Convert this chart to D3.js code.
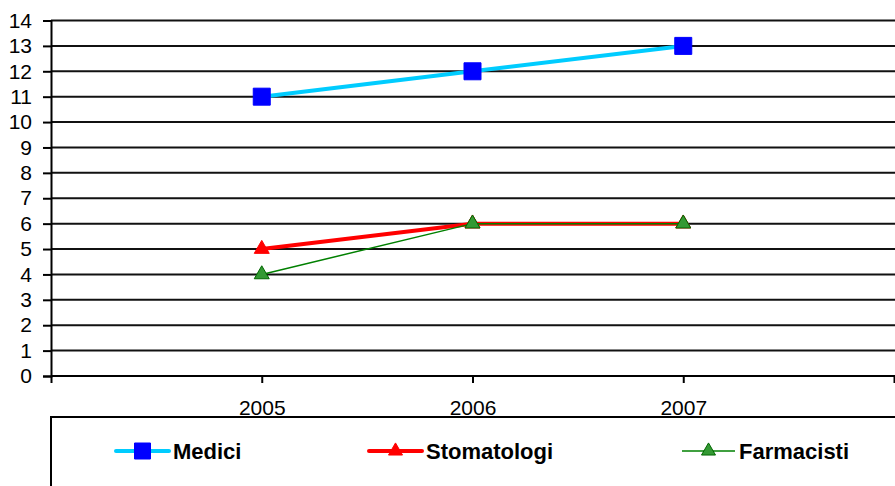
<!DOCTYPE html>
<html>
<head>
<meta charset="utf-8">
<script src="https://cdn.jsdelivr.net/npm/d3@7/dist/d3.min.js"></script>
<style>
  html, body { margin: 0; padding: 0; background: #fff; }
  svg { display: block; font-family: "Liberation Sans", Arial, sans-serif; }
</style>
</head>
<body>
<svg id="chart" width="895" height="486"></svg>
<script>
// Categories and series
const years = [2005, 2006, 2007];
const medici = [11, 12, 13];
const stomatologi = [5, 6, 6];
const farmacisti = [4, 6, 6];
const yTicks = [0, 1, 2, 3, 4, 5, 6, 7, 8, 9, 10, 11, 12, 13, 14];

const series = [
  { name: "Medici", values: medici, line: "#00CCFF", width: 4, marker: "square", fill: "#0000FF", stroke: "#0000FF", size: 17 },
  { name: "Stomatologi", values: stomatologi, line: "#FF0000", width: 4, marker: "triangle", fill: "#FF0000", stroke: "#FF0000", size: 15 },
  { name: "Farmacisti", values: farmacisti, line: "#008000", width: 1.5, marker: "triangle", fill: "#339933", stroke: "#006600", size: 15 }
];

const svg = d3.select("#chart");
const plotLeft = 51, plotRight = 894, plotTop = 20.5, plotBottom = 376;

// Years sit on category boundaries; one empty slot on each side
const x = d3.scaleLinear().domain([years[0] - 1, years[years.length - 1] + 1]).range([plotLeft, plotRight]);
const y = d3.scaleLinear().domain([0, 14]).range([plotBottom, plotTop]);

// Horizontal gridlines
svg.append("g")
  .selectAll("line")
  .data(yTicks.filter(d => d > 0))
  .join("line")
  .attr("x1", plotLeft).attr("x2", 895)
  .attr("y1", d => y(d)).attr("y2", d => y(d))
  .attr("stroke", "#111").attr("stroke-width", 2);

// Y axis
const yAxis = svg.append("g")
  .attr("transform", `translate(${plotLeft},0)`)
  .call(d3.axisLeft(y).tickValues(yTicks).tickSize(8).tickPadding(11).tickFormat(d3.format("d")));
yAxis.select(".domain").attr("stroke", "#000").attr("stroke-width", 2);
yAxis.selectAll(".tick line").attr("stroke", "#000").attr("stroke-width", 2);
yAxis.selectAll("text").attr("font-size", 21).attr("fill", "#000")
  .attr("font-family", "'Liberation Sans', Arial, sans-serif");

// X axis
const xTickVals = d3.range(years[0] - 1, years[years.length - 1] + 2);
const xAxis = svg.append("g")
  .attr("transform", `translate(0,${plotBottom})`)
  .call(d3.axisBottom(x).tickValues(xTickVals).tickSize(7).tickPadding(17)
    .tickFormat(d => years.includes(d) ? String(d) : ""));
xAxis.select(".domain").attr("stroke", "#000").attr("stroke-width", 2).attr("d", `M${plotLeft},0H895`);
xAxis.selectAll(".tick line").attr("stroke", "#000").attr("stroke-width", 2);
xAxis.selectAll("text").attr("font-size", 21).attr("fill", "#000")
  .attr("font-family", "'Liberation Sans', Arial, sans-serif");

const sym = (m, s) => m === "square"
  ? d3.symbol(d3.symbolSquare, s * s)()
  : d3.symbol(d3.symbolTriangle, s * s * 0.433)();

// Series lines and markers
const line = d3.line().x((d, i) => x(years[i])).y(d => y(d));
series.forEach(s => {
  svg.append("path")
    .attr("d", line(s.values))
    .attr("fill", "none")
    .attr("stroke", s.line)
    .attr("stroke-width", s.width);
  svg.append("g").selectAll("path")
    .data(s.values)
    .join("path")
    .attr("transform", (d, i) => `translate(${x(years[i])},${y(d)})`)
    .attr("d", sym(s.marker, s.size))
    .attr("fill", s.fill)
    .attr("stroke", s.stroke)
    .attr("stroke-width", 1);
});

// Legend
const lg = svg.append("g");
lg.append("rect")
  .attr("x", 51).attr("y", 417).attr("width", 900).attr("height", 120)
  .attr("fill", "#fff").attr("stroke", "#000").attr("stroke-width", 2);

const legendPos = [116, 369, 682];
series.forEach((s, i) => {
  const g = lg.append("g").attr("transform", `translate(${legendPos[i]},451)`);
  g.append("line").attr("x1", 0).attr("x2", 53).attr("y1", 0).attr("y2", 0)
    .attr("stroke", s.line).attr("stroke-width", s.width).attr("stroke-linecap", s.width > 2 ? "round" : "butt");
  g.append("path")
    .attr("transform", "translate(26.5,0)")
    .attr("d", sym(s.marker, s.marker === "square" ? 16 : 14))
    .attr("fill", s.fill).attr("stroke", s.stroke).attr("stroke-width", 1);
  g.append("text")
    .attr("x", 57).attr("y", 8)
    .attr("font-size", 22).attr("font-weight", "bold").attr("fill", "#000")
    .text(s.name);
});
</script>
</body>
</html>
